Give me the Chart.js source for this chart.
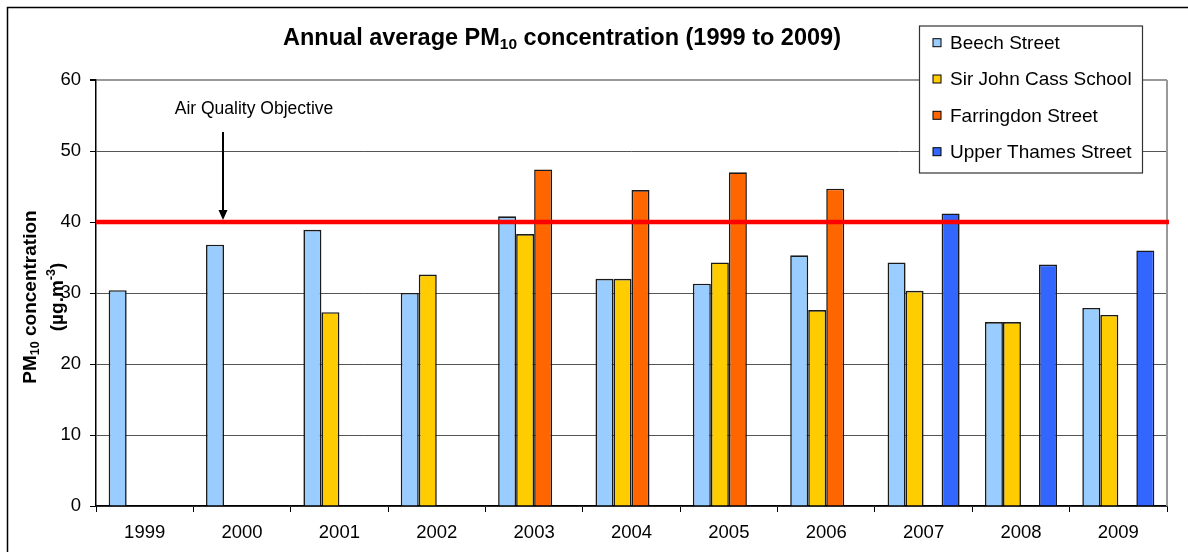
<!DOCTYPE html>
<html><head><meta charset="utf-8">
<script src="https://cdn.jsdelivr.net/npm/chart.js@4.4.1/dist/chart.umd.min.js"></script>
<style>html,body{margin:0;padding:0;background:#fff}#wrap{width:1188px;height:552px;position:relative}</style>
</head><body><div id="wrap"><canvas id="c"></canvas></div>
<script>
// ---- data ----
const years = ['1999','2000','2001','2002','2003','2004','2005','2006','2007','2008','2009'];
const beechStreet       = [30.4, 36.8, 38.9, 30.0, 40.8, 32.0, 31.3, 35.3, 34.3, 25.9, 27.9];
const sirJohnCass       = [null, null, 27.3, 32.6, 38.3, 32.0, 34.3, 27.6, 30.3, 25.9, 26.9];
const farringdonStreet  = [null, null, null, null, 47.4, 44.5, 47.0, 44.7, null, null, null];
const upperThamesStreet = [null, null, null, null, null, null, null, null, 41.2, 34.0, 36.0];
const seriesNames = ['Beech Street','Sir John Cass School','Farringdon Street','Upper Thames Street'];
const seriesColors = ['#99CCFF','#FFCC00','#FF6600','#3366FF'];
const objectiveValue = 40;
const objectiveLabel = 'Air Quality Objective';
const yMin = 0, yMax = 60, yStep = 10;
const titleParts = ['Annual average PM','10',' concentration (1999 to 2009)'];
const yTitleLine1 = ['PM','10',' concentration'];
const yTitleLine2 = ['(\u00B5g.m','-3',')'];

// ---- style ----
const FAM = "'Liberation Sans', Arial, Helvetica, sans-serif";
Chart.defaults.font.family = FAM;
Chart.defaults.color = '#000';

function richWidth(ctx, parts){
  let w = 0;
  for (const p of parts){ ctx.font = p.font; w += ctx.measureText(p.t).width; }
  return w;
}
function drawRich(ctx, parts, cx, baseY){
  const w = richWidth(ctx, parts);
  let x = cx - w/2;
  ctx.textAlign = 'left';
  ctx.textBaseline = 'alphabetic';
  for (const p of parts){
    ctx.font = p.font;
    ctx.fillText(p.t, x, baseY + (p.dy||0));
    x += ctx.measureText(p.t).width;
  }
}

const decor = {
  id: 'decor',
  beforeDraw(chart){
    const c = chart.ctx; c.save(); c.fillStyle = '#fff'; c.fillRect(0,0,chart.width,chart.height); c.restore();
  },
  beforeDatasetsDraw(chart){
    const c = chart.ctx, a = chart.chartArea;
    c.save(); c.strokeStyle = '#999'; c.lineWidth = 2;
    c.beginPath(); c.moveTo(a.right, a.top); c.lineTo(a.right, a.bottom); c.stroke();
    c.restore();
  },
  afterDatasetsDraw(chart){
    const c = chart.ctx, a = chart.chartArea, y = chart.scales.y;
    const yo = y.getPixelForValue(objectiveValue);
    c.save();
    c.strokeStyle = '#FF0000'; c.lineWidth = 4.5;
    c.beginPath(); c.moveTo(a.left, yo); c.lineTo(a.right + 2, yo); c.stroke();
    // annotation text
    c.fillStyle = '#000';
    c.font = '17.5px ' + FAM; c.textAlign = 'center'; c.textBaseline = 'middle';
    c.fillText(objectiveLabel, 254, 109);
    // arrow
    const ax = 223;
    c.strokeStyle = '#000'; c.lineWidth = 2;
    c.beginPath(); c.moveTo(ax, 132); c.lineTo(ax, yo - 10); c.stroke();
    c.beginPath(); c.moveTo(ax - 4.5, yo - 12); c.lineTo(ax + 4.5, yo - 12); c.lineTo(ax, yo - 2); c.closePath(); c.fill();
    c.restore();
  },
  afterDraw(chart){
    const c = chart.ctx;
    c.save();
    c.fillStyle = '#000';
    // title
    drawRich(c, [
      {t: titleParts[0], font: 'bold 23.5px ' + FAM},
      {t: titleParts[1], font: 'bold 15.5px ' + FAM, dy: 4},
      {t: titleParts[2], font: 'bold 23.5px ' + FAM}
    ], 562, 45);
    // y-axis title (two rotated lines)
    c.save(); c.translate(29, 297); c.rotate(-Math.PI/2);
    drawRich(c, [
      {t: yTitleLine1[0], font: 'bold 19px ' + FAM},
      {t: yTitleLine1[1], font: 'bold 12.5px ' + FAM, dy: 3},
      {t: yTitleLine1[2], font: 'bold 19px ' + FAM}
    ], 0, 7);
    c.restore();
    c.save(); c.translate(57, 297); c.rotate(-Math.PI/2);
    drawRich(c, [
      {t: yTitleLine2[0], font: 'bold 19px ' + FAM},
      {t: yTitleLine2[1], font: 'bold 12.5px ' + FAM, dy: -8},
      {t: yTitleLine2[2], font: 'bold 19px ' + FAM}
    ], 0, 5.5);
    c.restore();
    // legend
    const lx = 919, ly = 25.5, lw = 223, lh = 147;
    c.fillStyle = '#fff'; c.fillRect(lx, ly, lw, lh);
    c.strokeStyle = '#333'; c.lineWidth = 1.2; c.strokeRect(lx + 0.5, ly + 0.5, lw, lh);
    const rows = [42.7, 79, 115.3, 151.7];
    chart.data.datasets.forEach((ds, i) => {
      const cy = rows[i];
      c.fillStyle = ds.backgroundColor; c.fillRect(933, cy - 4, 8, 8);
      c.strokeStyle = '#000'; c.lineWidth = 1; c.strokeRect(933, cy - 4, 8, 8);
      c.fillStyle = '#000'; c.font = '19px ' + FAM; c.textAlign = 'left'; c.textBaseline = 'middle';
      c.fillText(ds.label, 950, cy + 1);
    });
    // outer border
    c.strokeStyle = '#000'; c.lineWidth = 1.5;
    c.strokeRect(7.5, 7.5, chart.width + 20, chart.height + 20);
    c.restore();
  }
};

const dataSeries = [beechStreet, sirJohnCass, farringdonStreet, upperThamesStreet];
new Chart(document.getElementById('c'), {
  type: 'bar',
  data: {
    labels: years,
    datasets: dataSeries.map((d, i) => ({
      label: seriesNames[i],
      data: d,
      backgroundColor: seriesColors[i],
      borderColor: '#1a1a1a',
      borderWidth: 1.6,
      borderSkipped: 'bottom',
      categoryPercentage: 0.74,
      barPercentage: 1.0
    }))
  },
  options: {
    responsive: true,
    maintainAspectRatio: false,
    animation: false,
    layout: { padding: { left: 0, top: 80, right: 21, bottom: 0 } },
    plugins: { legend: { display: false }, title: { display: false }, tooltip: { enabled: false } },
    scales: {
      x: {
        afterFit(s){ s.height = 46; },
        grid: { display: true, drawOnChartArea: false, drawTicks: true, tickLength: 6, tickColor: '#000', offset: true },
        border: { display: true, color: '#000', width: 1.5 },
        ticks: { font: { size: 18.5 }, color: '#000', padding: 10, maxRotation: 0 }
      },
      y: {
        min: yMin, max: yMax,
        afterFit(s){ s.width = 96; },
        grid: {
          color: (ctx) => (ctx.tick && ctx.tick.value === yMax) ? '#999' : '#555',
          lineWidth: (ctx) => (ctx.tick && ctx.tick.value === yMax) ? 2 : 1,
          tickColor: '#000', tickLength: 6, drawTicks: true
        },
        border: { display: true, color: '#000', width: 1.5 },
        ticks: { stepSize: yStep, font: { size: 18.5 }, color: '#000', padding: 9 }
      }
    }
  },
  plugins: [decor]
});
</script>
</body></html>
